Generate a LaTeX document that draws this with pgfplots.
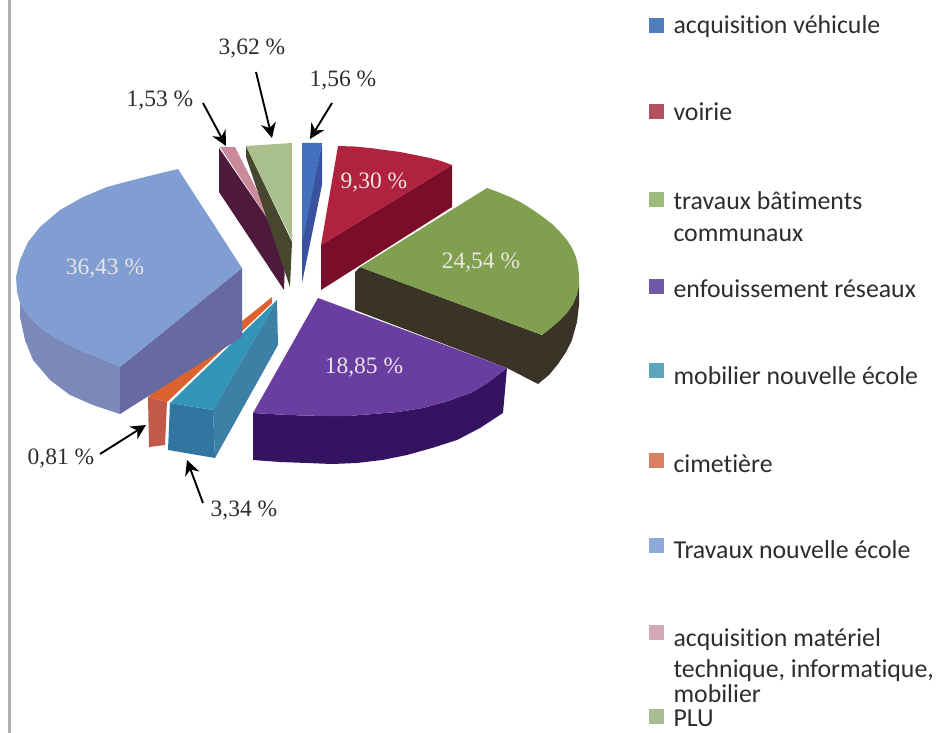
\documentclass[border=0pt]{standalone}
\usepackage{fontspec}
\setmainfont{Liberation Serif}
\newfontfamily\legendfont[Ligatures=NoCommon]{Carlito}
\usepackage{pgfplots}
\pgfplotsset{compat=1.18}
\usetikzlibrary{arrows.meta}
% top faces and sides
\definecolor{bluetop}{RGB}{66,112,188}
\definecolor{blueside}{RGB}{58,82,158}
\definecolor{redtop}{RGB}{176,34,62}
\definecolor{redside}{RGB}{122,14,42}
\definecolor{greentop}{RGB}{128,160,80}
\definecolor{greenside}{RGB}{58,52,38}
\definecolor{purpletop}{RGB}{106,62,160}
\definecolor{purpleside}{RGB}{52,20,96}
\definecolor{ltbluetop}{RGB}{128,158,210}
\definecolor{ltblueside}{RGB}{122,136,186}
\definecolor{ltbluedark}{RGB}{102,106,160}
\definecolor{tealtop}{RGB}{50,148,182}
\definecolor{tealside}{RGB}{60,128,165}
\definecolor{tealfront}{RGB}{48,118,160}
\definecolor{orangetop}{RGB}{220,98,48}
\definecolor{orangeside}{RGB}{194,90,72}
\definecolor{pinktop}{RGB}{202,138,156}
\definecolor{pinkside}{RGB}{78,26,60}
\definecolor{plutop}{RGB}{170,192,140}
\definecolor{pluside}{RGB}{72,70,46}
\definecolor{sqblue}{RGB}{80,125,190}
\definecolor{sqred}{RGB}{180,80,95}
\definecolor{sqgreen}{RGB}{157,187,122}
\definecolor{sqpurple}{RGB}{112,88,168}
\definecolor{sqteal}{RGB}{93,165,189}
\definecolor{sqorange}{RGB}{217,128,96}
\definecolor{sqltblue}{RGB}{143,170,216}
\definecolor{sqpink}{RGB}{214,168,181}
\definecolor{sqplu}{RGB}{168,189,146}
\definecolor{txt}{RGB}{45,45,45}
\definecolor{wlab}{RGB}{235,228,228}
\tikzset{arr/.style={black,line width=1.9pt,-{Stealth[length=15pt,width=15pt]}}}
\begin{document}
\begin{tikzpicture}
\useasboundingbox (0,0) rectangle (937pt,733pt);
\begin{axis}[
  scale only axis, width=937pt, height=733pt,
  xmin=0, xmax=937, ymin=0, ymax=733, y dir=reverse,
  hide axis, clip=false,
  every node/.style={inner sep=0pt}]
% page edge
\addplot[draw={rgb,255:red,176;green,176;blue,176}, line width=3.5pt] coordinates {(9.5,0) (9.5,733)};
% acquisition vehicule
\addplot[fill=blueside,draw=none] coordinates {(322,143) (322,185) (302,283) (302,240)} -- cycle;
\addplot[fill=bluetop,draw=none] coordinates {(302,143) (322,143) (304,235) (302,240)} -- cycle;
% voirie
\addplot[fill=redside,draw=none] coordinates {(452,165) (452,207) (321,290) (321,245)} -- cycle;
\addplot[fill=redtop,draw=none] coordinates {(321,245) (338,146) (354,146.5) (370,148) (385,150) (400,152) (415,155) (430,158) (441,161) (452,165)} -- cycle;
% travaux batiments
\addplot[fill=greenside,draw=none] coordinates {(360,267) (542,335) (559,321) (573,304) (579,285) (579,305) (577,322) (572,340) (566,352) (558,364) (549,375) (538,384) (507,368) (355,310) (355,272)} -- cycle;
\addplot[fill=greentop,draw=none] coordinates {(360,267) (487,188) (498,192) (510,197) (522,203) (533,210) (543,217) (552,224) (560,232) (567,240) (572,248) (576,257) (578,266) (579,275) (579,285) (577,295) (573,304) (567,313) (559,321) (551,328) (542,335)} -- cycle;
% enfouissement
\addplot[fill=purpleside,draw=none] coordinates {(253,413) (253,460) (280,462) (307,463) (332,464) (357,463) (382,460) (407,455) (432,448) (457,440) (480,428) (503,413) (507,368) (490,381) (473,392) (448,401) (423,408) (398,412) (373,414) (348,416) (323,416) (288,415)} -- cycle;
\addplot[fill=purpletop,draw=none] coordinates {(318,298) (507,368) (490,381) (473,392) (448,401) (423,408) (398,412) (373,414) (348,416) (323,416) (288,415) (253,413)} -- cycle;
% cimetiere
\addplot[fill=orangeside,draw=none] coordinates {(148,397) (167,402) (165,445) (149,447)} -- cycle;
\addplot[fill=orangetop,draw=none] coordinates {(272,297) (148,397) (167,402) (272,303)} -- cycle;
% mobilier
\addplot[fill=tealside,draw=none] coordinates {(277,300) (278,345) (215,458) (213,410)} -- cycle;
\addplot[fill=tealfront,draw=none] coordinates {(170,403) (213,410) (215,458) (168,450)} -- cycle;
\addplot[fill=tealtop,draw=none] coordinates {(277,300) (170,403) (213,410)} -- cycle;
% travaux nouvelle ecole
\addplot[fill=ltblueside,draw=none] coordinates {(20,303) (28,315) (43,330) (60,340) (80,350) (100,358) (120,367) (120,414) (93,405) (70,395) (50,380) (33,360) (25,340) (20,317)} -- cycle;
\addplot[fill=ltbluedark,draw=none] coordinates {(120,367) (242,268) (242,337) (120,414)} -- cycle;
\addplot[fill=ltbluetop,draw=none] coordinates {(178,169) (157,174) (133,180) (107,187) (83,197) (60,210) (40,227) (28,242) (20,260) (16,277) (17,292) (20,303) (28,315) (43,330) (60,340) (80,350) (100,358) (120,367) (242,268)} -- cycle;
% materiel
\addplot[fill=pinkside,draw=none] coordinates {(219,148) (282,240) (285,262) (284,290) (219,192)} -- cycle;
\addplot[fill=pinktop,draw=none] coordinates {(220,147) (235,147) (282,240)} -- cycle;
% PLU
\addplot[fill=pluside,draw=none] coordinates {(246,146) (292,242) (290,287) (246,157)} -- cycle;
\addplot[fill=plutop,draw=none] coordinates {(246,146) (292,143) (292,240)} -- cycle;
% arrows
\addplot[arr] coordinates {(256,72) (272,138)};
\addplot[arr] coordinates {(332,103) (310,139)};
\addplot[arr] coordinates {(203,103) (226,146)};
\addplot[arr] coordinates {(100,454) (146,425)};
\addplot[arr] coordinates {(203,503) (187,460)};
% legend keys
\addplot[only marks,mark=square*,mark size=7pt,color=sqblue] coordinates {(656.5,25)};
\addplot[only marks,mark=square*,mark size=7pt,color=sqred] coordinates {(656.5,111)};
\addplot[only marks,mark=square*,mark size=7pt,color=sqgreen] coordinates {(656.5,199)};
\addplot[only marks,mark=square*,mark size=7pt,color=sqpurple] coordinates {(656.5,286)};
\addplot[only marks,mark=square*,mark size=7pt,color=sqteal] coordinates {(656.5,370)};
\addplot[only marks,mark=square*,mark size=7pt,color=sqorange] coordinates {(656.5,460)};
\addplot[only marks,mark=square*,mark size=7pt,color=sqltblue] coordinates {(656.5,545)};
\addplot[only marks,mark=square*,mark size=7pt,color=sqpink] coordinates {(656.5,632)};
\addplot[only marks,mark=square*,mark size=7pt,color=sqplu] coordinates {(656.5,716)};
% percentages
\begin{scope}[every node/.append style={font=\fontsize{23.5}{25}\selectfont}]
\node[text=txt] at (axis cs:252,48) {3,62 \%};
\node[text=txt] at (axis cs:343,80) {1,56 \%};
\node[text=txt] at (axis cs:160,100) {1,53 \%};
\node[text=txt] at (axis cs:61,458) {0,81 \%};
\node[text=txt] at (axis cs:244,510) {3,34 \%};
\node[text=wlab] at (axis cs:374,182) {9,30 \%};
\node[text=wlab] at (axis cs:481,262) {24,54 \%};
\node[text=wlab] at (axis cs:105,268) {36,43 \%};
\node[text=wlab] at (axis cs:364,367) {18,85 \%};
\end{scope}
% legend text
\begin{scope}[every node/.append style={anchor=base west,text=txt,font=\legendfont\fontsize{25.8}{28}\selectfont}]
\node at (axis cs:670,34) {acquisition véhicule};
\node at (axis cs:670,121) {voirie};
\node at (axis cs:670,209) {travaux bâtiments};
\node at (axis cs:670,241) {communaux};
\node at (axis cs:670,297) {enfouissement réseaux};
\node at (axis cs:670,384) {mobilier nouvelle école};
\node at (axis cs:670,472) {cimetière};
\node at (axis cs:670,558) {Travaux nouvelle école};
\node at (axis cs:670,646) {acquisition matériel};
\node at (axis cs:670,677) {technique, informatique,};
\node at (axis cs:670,702) {mobilier};
\node at (axis cs:670,726) {PLU};
\end{scope}
\end{axis}
\end{tikzpicture}
\end{document}
